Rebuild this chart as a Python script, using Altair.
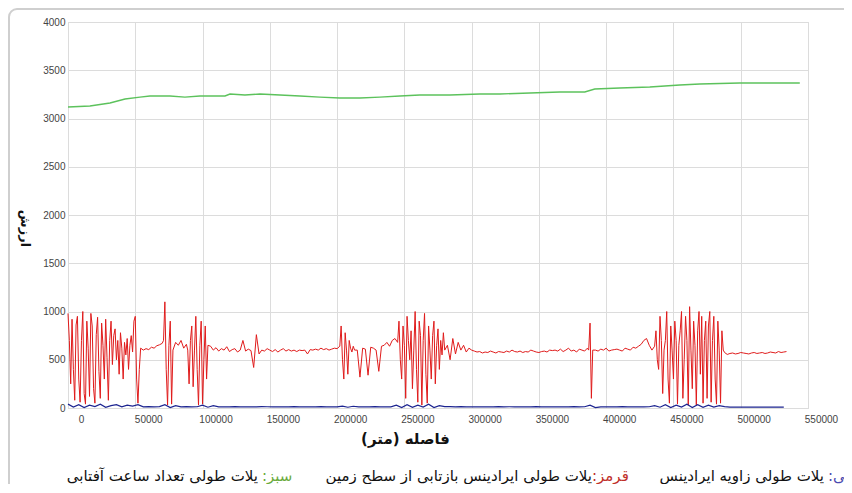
import altair as alt
import numpy as np
import pandas as pd

# ---------------- data ----------------
x_ticks = list(range(0, 550001, 50000))
y_ticks = list(range(0, 4001, 500))

# green: sunshine-hours profile (distance in m, value)
green_x = [0, 16300, 31200, 42400, 53500, 60900, 75800, 86900, 98100, 116700,
           120400, 131500, 142700, 157500, 172400, 187200, 202100, 217000,
           231800, 246700, 261500, 283800, 306100, 321000, 343300, 365600,
           384100, 391500, 410100, 432400, 454700, 469600, 499300, 543900]
green_v = [3119, 3130, 3161, 3202, 3222, 3233, 3233, 3222, 3233, 3233,
           3254, 3244, 3254, 3244, 3233, 3222, 3212, 3212,
           3222, 3233, 3244, 3244, 3254, 3254, 3264, 3275,
           3275, 3306, 3316, 3326, 3347, 3357, 3368, 3368]

# red: reflected irradiance profile, read in stretches (start m, spacing m, readings)
red_segments = [
    (0, 1000, [980, 700, 250, 920, 400, 80, 860, 950, 300, 60,
               700, 1000, 150, 40, 900, 620, 120, 980, 850, 200,
               50, 760, 940, 380, 100, 880, 650, 300, 920, 520,
               80, 700, 900, 450, 750]),
    (35000, 1000, [820, 500, 700, 350, 780, 620, 300, 680, 550, 720, 400, 650, 750, 580, 900]),
    (50000, 1000, [950, 300, 50, 400, 620]),
    (56000, 2000, [600, 615, 605, 630, 620, 645, 655, 670]),
    (71000, 1000, [700, 1100, 400, 30, 650, 900, 40, 600]),
    (80000, 2000, [680, 650, 700, 620, 660]),
    (89000, 1000, [600, 250, 700, 850, 220, 600, 950, 400, 30, 650, 900, 40, 500, 850, 300, 650]),
    (106000, 2000, [640, 600, 625, 590, 615, 600, 635, 585, 605, 615,
                    580, 600, 700, 590, 610, 595, 420, 760, 560, 600,
                    590, 615, 600, 585, 605, 580, 600, 615, 590, 605,
                    590, 600, 585, 600, 595, 600, 560, 605, 600, 610,
                    600, 620, 605, 615, 600, 610, 620, 615, 640]),
    (203000, 1000, [850, 500, 300, 780, 600, 350, 700, 620, 580, 640, 600]),
    (215000, 2000, [600, 320, 620, 610, 340, 630, 620, 600, 380, 640, 650, 680, 640, 700, 720, 680]),
    (246000, 1000, [900, 500, 300, 850, 650, 100, 950, 700, 500, 800,
                    200, 600, 1000, 400, 60, 900, 750, 30, 700, 980,
                    350, 50, 850, 600, 300, 750, 900, 250, 650, 820,
                    400, 700, 550, 780, 600]),
    (282000, 2000, [650, 500, 720, 560, 680, 600, 650, 580, 620, 600]),
    (302000, 2000, [590, 580, 585, 570, 580, 575, 590, 580, 570, 585,
                    580, 575, 590, 580, 600, 585, 580, 590, 575, 585,
                    580, 600, 590, 580, 575, 585, 590, 580, 600, 595,
                    600, 590, 610, 585, 600, 620, 590, 600, 580, 610,
                    600, 590, 620]),
    (387000, 1000, [600, 880, 100, 600]),
    (392000, 2000, [600, 590, 610, 600, 620, 590, 600, 605, 610, 600,
                    590, 620, 610, 600, 630, 620, 640, 660, 700, 720,
                    650, 600, 640]),
    (437000, 1000, [800, 500, 400, 950, 700, 150, 600, 700, 1000, 300,
                    50, 850, 600, 300, 900, 700, 40, 650, 800, 1000,
                    100, 500, 950, 700, 30, 1050, 600, 200, 900, 650,
                    30, 800, 1000, 350, 950, 50, 700, 900, 100, 850,
                    1000, 60, 700, 950, 300, 40, 900, 600, 50, 800, 600]),
    (488000, 2000, [575, 555, 565, 570, 560, 565, 575, 570, 565, 560,
                    570, 575, 565, 570, 575, 565, 570, 580, 575, 570,
                    585, 575, 580, 585]),
]

# blue: irradiance angle profile, one reading every 4000 m
blue_step = 4000
blue_v = [
    40, 10, 35, 5, 30, 15, 40, 8, 25, 35, 12, 30, 20, 35,
    12, 15, 12, 14,
    35, 5, 25,
    12, 14, 12, 13,
    30, 8, 25,
    12, 13, 12, 14, 12, 13, 12, 12, 14, 13, 12, 12, 13, 12, 14, 12, 13, 12, 12, 14, 12, 13, 12,
    20, 8, 18,
    12, 13, 12, 14, 12, 13, 12,
    30, 5, 35, 8, 30, 10, 40, 5, 25, 15,
    15, 12, 14, 12, 13,
    12, 13, 12, 12, 14, 12, 13, 12, 12, 13, 12, 14, 12, 13, 12, 12, 13, 12, 14, 12, 13,
    30, 5,
    12, 13, 12, 12, 14, 12, 13, 12, 12, 13,
    25, 8, 35, 5, 30, 10, 40, 5, 35, 8, 30, 10, 25, 15,
    10, 10, 10, 10, 10, 10, 10, 10, 10, 10, 10,
]

x_title = "فاصله (متر)\u200f"
y_title = "ارزش"
caption_labels = ["آبی:\u200f", "قرمز:\u200f", "سبز:\u200f"]
caption_bodies = ["پلات طولی زاویه ایرادینس",
                  "پلات طولی ایرادینس بازتابی از سطح زمین",
                  "پلات طولی تعداد ساعت آفتابی"]
caption_colors = ["#4b4bb0", "#c0302a", "#6aaa3c"]

# ---------------- frames ----------------
red_x, red_v = [], []
for start, step, vals in red_segments:
    red_x += [start + i * step for i in range(len(vals))]
    red_v += vals

df_green = pd.DataFrame({"x": green_x, "v": green_v})
df_red = pd.DataFrame({"x": red_x, "v": red_v})
df_blue = pd.DataFrame({"x": np.arange(len(blue_v)) * blue_step, "v": blue_v})
one = pd.DataFrame({"a": [0]})

LABEL_FONT = "Liberation Sans"
AR_FONT = "DejaVu Sans"

xenc = alt.X(
    "x:Q",
    scale=alt.Scale(domain=[0, 550000], nice=False, zero=False),
    axis=alt.Axis(
        values=x_ticks, format="d", labelOffset=13, labelFlush=False,
        ticks=False, tickSize=0, domain=False, labelPadding=6,
        labelFont=LABEL_FONT, labelFontSize=10, labelColor="#444444",
        title=x_title, titleFont=AR_FONT, titleFontSize=15, titleFontWeight="bold",
        titleColor="#111111", titleX=337, titleY=30, titleBaseline="middle",
    ),
)
yenc = alt.Y(
    "v:Q",
    scale=alt.Scale(domain=[0, 4000], nice=False),
    axis=alt.Axis(
        values=y_ticks, format="d", ticks=False, tickSize=0, domain=False,
        labelPadding=3, labelFont=LABEL_FONT, labelFontSize=10, labelColor="#444444",
        title=y_title, titleFont=AR_FONT, titleFontSize=13, titleFontWeight="bold",
        titleColor="#111111", titleAngle=90, titleX=-44, titleY=206,
        titleBaseline="middle", titleAlign="center",
    ),
)

frame = alt.Chart(one).mark_rect(
    fillOpacity=0, stroke="#cfcfcf", strokeWidth=2, cornerRadius=8
).encode(x=alt.value(-59), x2=alt.value(820), y=alt.value(-13), y2=alt.value(490))

green = alt.Chart(df_green).mark_line(color="#5cc25c", strokeWidth=1.4).encode(x=xenc, y=yenc)
red = alt.Chart(df_red).mark_line(color="#e01b1b", strokeWidth=1).encode(x=xenc, y=yenc)
blue = alt.Chart(df_blue).mark_line(color="#1c2490", strokeWidth=1.2).encode(x=xenc, y=yenc)

# caption: label's left edge and body's right edge (RTL reading), relative to plot
label_left = [760, 524, 194]
body_right = [756, 524, 190]
cap_y = 454
caption_layers = []
for body, lab, col, xl, xr in zip(caption_bodies, caption_labels, caption_colors,
                                  label_left, body_right):
    caption_layers.append(
        alt.Chart(one).mark_text(text=body, align="right", baseline="middle",
                                 font=AR_FONT, fontSize=15, color="#111111")
        .encode(x=alt.value(xr), y=alt.value(cap_y))
    )
    caption_layers.append(
        alt.Chart(one).mark_text(text=lab, align="left", baseline="middle",
                                 font=AR_FONT, fontSize=15, color=col)
        .encode(x=alt.value(xl), y=alt.value(cap_y))
    )

chart = alt.layer(frame, green, red, blue, *caption_layers).properties(
    width=740, height=386,
    autosize=alt.AutoSizeParams(type="none"),
    padding={"left": 60, "top": 14, "right": 36, "bottom": 76},
    background="white",
).configure_view(stroke="#d4d4d4", strokeWidth=1).configure_axis(
    gridColor="#dcdcdc", gridWidth=1
)

chart.save("out.html", embed_options={"renderer": "svg", "actions": False})
